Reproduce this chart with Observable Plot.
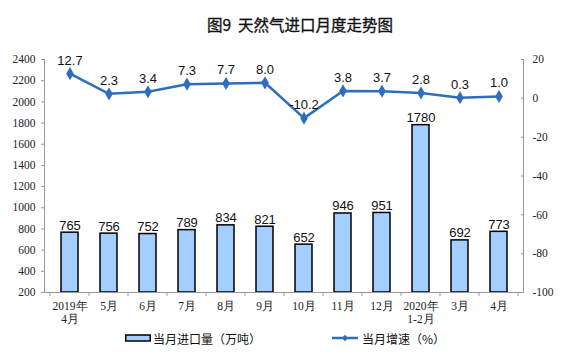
<!DOCTYPE html>
<html>
<head>
<meta charset="utf-8">
<script src="https://cdn.jsdelivr.net/npm/d3@7"></script>
<script src="https://cdn.jsdelivr.net/npm/@observablehq/plot@0.6"></script>
<style>
  body { margin: 0; background: #fff; }
  #wrap { position: relative; width: 561px; height: 357px; overflow: hidden; background: #fff; }
  #title { position: absolute; top: 13px; left: 100px; width: 400px; text-align: center; line-height: 20px;
    font: 15.5px "Noto Sans CJK SC", sans-serif; color: #111; -webkit-text-stroke: 0.35px #111; }
  #chart { position: absolute; top: 40px; left: 0; }
  #legend { position: absolute; top: 329px; left: 0; width: 561px; height: 20px;
    font: 12px "Noto Sans CJK SC", sans-serif; color: #111; }
  .lg { position: absolute; top: 0; display: flex; align-items: center; height: 18px; }
</style>
</head>
<body>
<div id="wrap">
  <div id="title">图9&nbsp; 天然气进口月度走势图</div>
  <div id="chart"></div>
  <div id="legend">
    <div class="lg" style="left:125px">
      <svg width="26" height="10"><rect x="0.75" y="2" width="24.5" height="6" fill="#A4CEFF" stroke="#000" stroke-width="1.5"/></svg>
      <span style="margin-left:2px">当月进口量（万吨）</span>
    </div>
    <div class="lg" style="left:332px">
      <svg width="26" height="10"><line x1="0" y1="5" x2="26" y2="5" stroke="#2E6EBD" stroke-width="2.5"/><path d="M13 1.8 L16.2 5 L13 8.2 L9.8 5 Z" fill="#2E6EBD"/></svg>
      <span style="margin-left:4px">当月增速（%）</span>
    </div>
  </div>
</div>
<script>
const categories = ["2019年\n4月","5月","6月","7月","8月","9月","10月","11月","12月","2020年\n1-2月","3月","4月"];
const volumes = [765, 756, 752, 789, 834, 821, 652, 946, 951, 1780, 692, 773];
const growth = [12.7, 2.3, 3.4, 7.3, 7.7, 8.0, -10.2, 3.8, 3.7, 2.8, 0.3, 1.0];
const leftTicks = [200, 400, 600, 800, 1000, 1200, 1400, 1600, 1800, 2000, 2200, 2400];
const rightTicks = [-100, -80, -60, -40, -20, 0, 20];

const leftMin = 200, leftMax = 2400, rightMin = -100, rightMax = 20;
const toLeft = v => leftMin + (v - rightMin) * (leftMax - leftMin) / (rightMax - rightMin);
const fromLeft = v => rightMin + (v - leftMin) * (rightMax - rightMin) / (leftMax - leftMin);

const data = categories.map((c, i) => ({cat: c, vol: volumes[i], g: growth[i], gy: toLeft(growth[i])}));

const lineColor = "#2E6EBD";
const axisColor = "#9a9a9a";
const serif = "'Liberation Serif', 'DejaVu Serif', serif";

// small tick marks between category bands, plus the two vertical axis lines
function axisDecor(index, scales, values, dims) {
  const x = scales.x, y = scales.y;
  const c0 = x(categories[0]), c1 = x(categories[1]);
  const step = c1 - c0;
  const bw = x.bandwidth ? x.bandwidth() : 0;
  const y0 = y(leftMin), yTop = y(leftMax);
  const g = d3.create("svg:g").attr("stroke", axisColor).attr("stroke-width", 1);
  const xl = dims.marginLeft + 0.5, xr = dims.width - dims.marginRight + 0.5;
  g.append("line").attr("x1", xl).attr("x2", xl).attr("y1", yTop).attr("y2", y0);
  g.append("line").attr("x1", xr).attr("x2", xr).attr("y1", yTop).attr("y2", y0);
  categories.forEach((c, i) => {
    const left = x(c) - (step - bw) / 2;
    g.append("line").attr("x1", left).attr("x2", left).attr("y1", y0).attr("y2", y0 + 4);
    if (i === categories.length - 1) {
      const right = left + step;
      g.append("line").attr("x1", right).attr("x2", right).attr("y1", y0).attr("y2", y0 + 4);
    }
  });
  return g.node();
}

const chart = Plot.plot({
  width: 561,
  height: 282,
  marginTop: 19,
  marginBottom: 30,
  marginLeft: 44,
  marginRight: 38,
  style: {background: "transparent", overflow: "visible"},
  x: {domain: categories, paddingInner: 0.57, paddingOuter: 0.285, label: null},
  y: {domain: [leftMin, leftMax], label: null},
  marks: [
    Plot.barY(data, {x: "cat", y1: leftMin, y2: "vol", fill: "#A4CEFF", stroke: "#000", strokeWidth: 1.5}),
    Plot.axisY({anchor: "left", ticks: leftTicks, tickFormat: d => String(d), tickSize: 3, tickPadding: 6, label: null,
      fontFamily: serif, fontSize: 11.5, stroke: axisColor, fill: "#222"}),
    Plot.axisY({anchor: "right", ticks: rightTicks.map(toLeft), tickFormat: v => String(Math.round(fromLeft(v))),
      tickSize: -3, tickPadding: 12, label: null, fontFamily: serif, fontSize: 11.5, stroke: axisColor, fill: "#222"}),
    Plot.axisX({tickSize: 0, tickPadding: 8, label: null, fontFamily: serif, fontSize: 11.5, fill: "#222", lineHeight: 1.15}),
    Plot.ruleY([leftMin], {stroke: axisColor}),
    axisDecor,
    Plot.text(data, {x: "cat", y: "vol", text: d => String(d.vol), dy: -3, lineAnchor: "bottom",
      fontFamily: "'Liberation Sans', Arial, sans-serif", fontSize: 13, fill: "#111"}),
    Plot.line(data, {x: "cat", y: "gy", stroke: lineColor, strokeWidth: 2.5}),
    Plot.dot(data, {x: "cat", y: "gy", symbol: "diamond", r: 4, fill: lineColor}),
    Plot.text(data, {x: "cat", y: "gy", text: d => d.g.toFixed(1), dy: -9, lineAnchor: "bottom",
      fontFamily: "'Liberation Sans', Arial, sans-serif", fontSize: 13, fill: "#111"})
  ]
});

document.getElementById("chart").appendChild(chart);
</script>
</body>
</html>
